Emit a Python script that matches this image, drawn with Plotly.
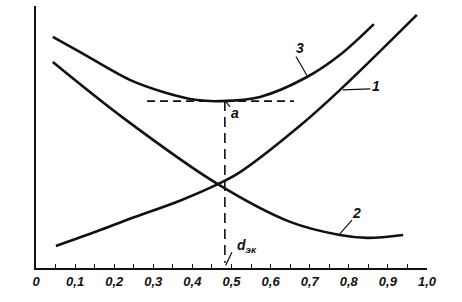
import plotly.graph_objects as go

# curve data (d_м on x, relative value on y)
x3 = [0.043, 0.113, 0.240, 0.325, 0.412, 0.471, 0.573, 0.693, 0.777, 0.864]
y3 = [0.882, 0.824, 0.718, 0.672, 0.641, 0.637, 0.653, 0.729, 0.813, 0.931]

x1 = [0.051, 0.156, 0.240, 0.368, 0.465, 0.522, 0.668, 0.777, 0.974]
y1 = [0.084, 0.140, 0.188, 0.257, 0.320, 0.366, 0.534, 0.679, 0.966]

x2 = [0.043, 0.223, 0.465, 0.650, 0.777, 0.847, 0.939]
y2 = [0.786, 0.573, 0.320, 0.176, 0.126, 0.115, 0.126]

tick_vals = [0, 0.1, 0.2, 0.3, 0.4, 0.5, 0.6, 0.7, 0.8, 0.9, 1.0]
tick_text = ["0", "0,1", "0,2", "0,3", "0,4", "0,5", "0,6", "0,7", "0,8", "0,9", "1,0"]

d_opt = 0.483
y_min3 = 0.637

INK = "#111111"
FONT = "Liberation Sans"

fig = go.Figure()
for xs, ys in [(x3, y3), (x1, y1), (x2, y2)]:
    fig.add_trace(go.Scatter(x=xs, y=ys, mode="lines", line=dict(color=INK, width=2.6, shape="spline", smoothing=1.0),
                             hoverinfo="skip", showlegend=False))

# dashed construction lines
fig.add_trace(go.Scatter(x=[0.284, 0.660], y=[y_min3, y_min3], mode="lines",
                         line=dict(color=INK, width=1.6, dash="8px,5px"), showlegend=False, hoverinfo="skip"))
fig.add_trace(go.Scatter(x=[d_opt, d_opt], y=[y_min3, 0.02], mode="lines",
                         line=dict(color=INK, width=1.6, dash="10px,6px"), showlegend=False, hoverinfo="skip"))

# leader lines
leaders = [
    ((0.665, 0.807), (0.693, 0.735)),   # 3
    ((0.855, 0.684), (0.785, 0.680)),   # 1
    ((0.808, 0.183), (0.777, 0.130)),   # 2
    ((0.496, 0.615), (0.486, 0.634)),   # a
    ((0.501, 0.060), (0.485, 0.010)),   # d_эк
]
for (xa, ya), (xb, yb) in leaders:
    fig.add_shape(type="line", x0=xa, y0=ya, x1=xb, y1=yb, line=dict(color=INK, width=1.2))

labels = [
    (0.675, 0.84, "3"),
    (0.870, 0.695, "1"),
    (0.820, 0.210, "2"),
    (0.510, 0.590, "a"),
    (0.540, 0.085, "d<sub>эк</sub>"),
    (1.040, 0.040, "d<sub>м</sub>"),
]
for lx, ly, t in labels:
    fig.add_annotation(x=lx, y=ly, text=t, showarrow=False, xref="x", yref="y",
                       font=dict(family=FONT, size=14, color=INK, style="italic"))

fig.update_layout(
    width=462, height=302,
    margin=dict(l=36, r=35, t=6, b=34),
    paper_bgcolor="white", plot_bgcolor="white",
    font=dict(family=FONT, size=13, color=INK, style="italic", weight="bold"),
    xaxis=dict(range=[0, 1.0], showgrid=False, zeroline=False, showline=True, linecolor=INK, linewidth=2,
               tickvals=tick_vals, ticktext=tick_text, ticks="inside", ticklen=4, tickcolor=INK, tickwidth=1.2,
               minor=dict(dtick=0.05, ticks="inside", ticklen=4, tickcolor=INK, tickwidth=1.2),
               tickfont=dict(family=FONT, size=13, color=INK, style="italic", weight="bold")),
    yaxis=dict(range=[0, 1.0], showgrid=False, zeroline=False, showline=True, linecolor=INK, linewidth=2,
               showticklabels=False, ticks=""),
)

fig.write_html("out.html")
